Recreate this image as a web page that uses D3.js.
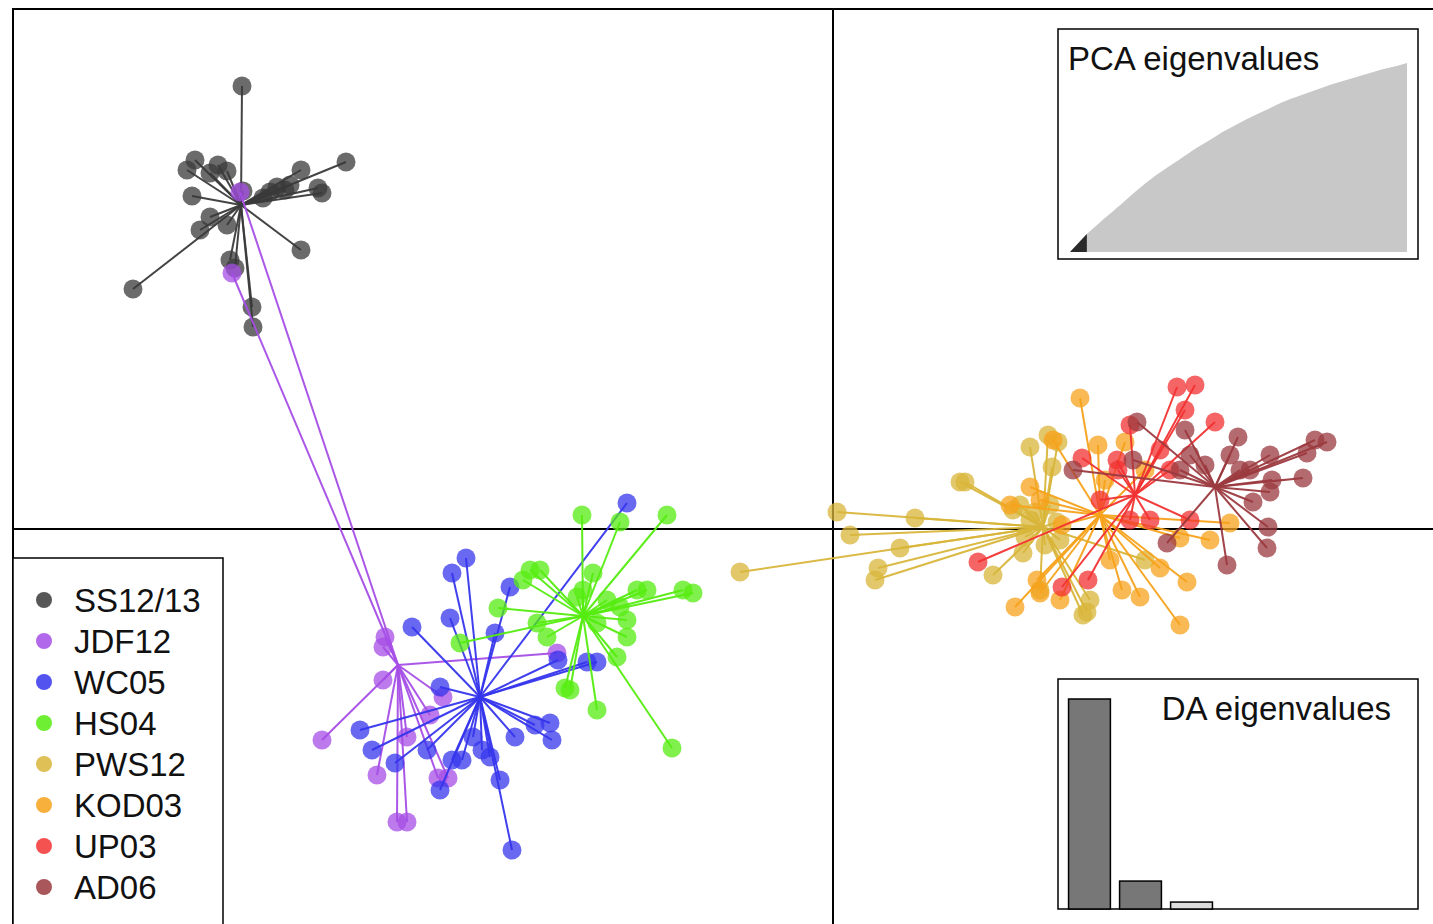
<!DOCTYPE html>
<html><head><meta charset="utf-8">
<script src="https://cdn.jsdelivr.net/npm/d3@7"></script>
<style>html,body{margin:0;padding:0;background:#fff;overflow:hidden}</style>
</head><body>
<svg id="chart" width="1433" height="924"></svg>
<script>
// ---- data (LD1, LD2 discriminant scores) ----
const groups = ["SS12/13","JDF12","WC05","HS04","PWS12","KOD03","UP03","AD06"];
const colors = ["#3a3a3a","#a54ee6","#3535ec","#55ec10","#d8b53a","#f7a21b","#f23232","#9b3a3f"];
const centroids = [[-5.92,3.24],[-4.35,-1.36],[-3.53,-1.68],[-2.50,-0.87],[2.10,0.02],[2.67,0.14],[3.02,0.34],[3.82,0.42]];
const ssScores = [[-5.91,4.43],[-4.87,3.67],[-7.00,2.40],[-5.32,2.79],[-6.38,3.69],[-6.46,3.59],[-6.06,3.58],[-6.23,3.56],[-6.41,3.33],[-5.90,3.38],[-5.70,3.31],[-5.56,3.42],[-5.43,3.44],[-5.32,3.59],[-5.15,3.41],[-5.11,3.36],[-6.23,3.12],[-6.33,2.99],[-6.06,3.04],[-6.03,2.69],[-5.98,2.61],[-5.81,2.22],[-5.80,2.02],[-5.63,3.37],[-5.48,3.39],[-6.15,3.64]];
const jdfScores = [[-5.93,3.37],[-6.01,2.56],[-4.48,-1.08],[-4.50,-1.18],[-4.50,-1.51],[-5.11,-2.11],[-4.56,-2.46],[-4.36,-2.93],[-4.26,-2.93],[-3.95,-2.49],[-3.85,-2.49],[-4.26,-2.08],[-2.76,-1.24],[-3.90,-1.68],[-4.03,-1.86]];
const wcScores = [[-3.67,-0.29],[-3.81,-0.44],[-4.21,-0.98],[-3.83,-0.89],[-3.23,-0.58],[-3.38,-1.04],[-4.73,-2.01],[-4.61,-2.21],[-4.38,-2.34],[-3.93,-1.58],[-4.06,-2.21],[-3.93,-2.61],[-3.81,-2.31],[-3.71,-2.31],[-3.51,-2.21],[-3.33,-2.51],[-3.21,-3.21],[-3.18,-2.08],[-2.83,-1.94],[-2.81,-2.11],[-3.60,-2.08],[-3.43,-2.28],[-2.06,0.26],[-2.46,-1.33],[-2.36,-1.33],[-2.75,-1.31],[-2.98,-1.96]];
const hsScores = [[-2.51,0.14],[-2.13,0.07],[-1.66,0.14],[-3.03,-0.41],[-2.93,-0.41],[-2.40,-0.44],[-3.35,-0.79],[-3.73,-1.14],[-1.96,-0.61],[-1.86,-0.61],[-1.50,-0.61],[-1.40,-0.64],[-2.06,-0.91],[-2.06,-1.08],[-2.16,-1.28],[-2.68,-1.59],[-2.36,-1.81],[-1.61,-2.19],[-2.96,-0.94],[-2.56,-0.68],[-2.36,-0.94],[-2.86,-1.08],[-2.50,-0.61],[-2.13,-0.78],[-2.26,-0.71],[-3.10,-0.51],[-2.63,-1.61]];
const pwsScores = [[-0.93,-0.43],[0.04,0.17],[0.17,-0.06],[0.82,0.11],[0.67,-0.19],[0.45,-0.39],[0.42,-0.51],[1.27,0.47],[1.32,0.47],[1.60,-0.46],[1.97,0.82],[2.15,0.94],[2.25,0.87],[2.19,0.62],[1.80,0.19],[1.87,0.24],[2.02,0.17],[2.17,0.24],[2.24,0.07],[1.92,-0.08],[2.12,-0.16],[1.90,-0.24],[2.07,-0.61],[2.50,-0.86],[2.54,-0.83],[2.57,-0.71],[3.12,-0.31],[1.97,0.09],[2.27,-0.11]];
const kodScores = [[2.47,1.31],[2.20,0.89],[2.65,0.84],[2.92,0.87],[1.97,0.42],[1.82,-0.78],[2.04,-0.51],[2.07,-0.64],[2.27,-0.71],[2.89,-0.61],[3.07,-0.68],[3.27,-0.39],[3.54,-0.53],[3.47,-0.96],[3.77,-0.11],[3.47,-0.09],[3.97,0.06],[1.77,0.24],[2.07,0.29],[2.29,0.04],[2.77,-0.31],[3.12,0.59],[2.72,0.49]];
const upScores = [[3.44,1.42],[3.62,1.44],[3.52,1.19],[3.82,1.07],[2.49,0.71],[2.84,0.69],[1.45,-0.33],[2.29,-0.58],[2.55,-0.51],[3.27,0.79],[2.85,0.59],[2.97,0.09],[3.17,0.09],[3.57,0.09],[2.67,0.29],[3.37,0.59],[2.97,1.04]];
const adScores = [[3.04,1.07],[3.52,0.99],[4.05,0.92],[4.82,0.89],[4.94,0.87],[4.74,0.76],[4.37,0.74],[4.70,0.51],[4.39,0.49],[4.37,0.37],[4.20,0.27],[4.35,0.02],[4.34,-0.19],[3.94,-0.36],[3.34,-0.14],[2.40,0.59],[3.00,0.69],[3.72,0.64],[3.57,0.74],[4.07,0.59],[3.47,0.59],[3.97,0.74],[4.17,0.59]];
const scores = [ssScores,jdfScores,wcScores,hsScores,pwsScores,kodScores,upScores,adScores];
// PCA cumulative variance (%) for retained axes, and DA eigenvalues
const pcaCumVar = [0,4.8,9.5,13.5,17.5,21.2,25,29,32.8,36.5,40,43,46,49,52,55,57.7,60.3,63.2,65.6,68,70.4,72.5,74.6,76.7,78.8,80.7,82.3,83.9,85.4,87,88.6,90,91.3,92.6,93.9,95.2,96.6,97.6,98.7,100];
const pcaRetained = 2;
const daEig = [1, 0.133, 0.033];
const daRetained = 2;

// ---- drawing ----
const svg = d3.select("#chart");
const W = 1433, H = 924;
const x = d3.scaleLinear().domain([-8.2, 6.0]).range([13, 1433]);
const y = d3.scaleLinear().domain([5.2, -3.95]).range([9, 924]);
const font = "'Liberation Sans', Arial, Helvetica, sans-serif";

// axes through origin
svg.append("line").attr("x1", x(-8.2)).attr("x2", W+5).attr("y1", y(0)).attr("y2", y(0)).attr("stroke","#000").attr("stroke-width",2);
svg.append("line").attr("x1", x(0)).attr("x2", x(0)).attr("y1", y(5.2)).attr("y2", H+5).attr("stroke","#000").attr("stroke-width",2);

// groups: star lines then points
groups.forEach((g, i) => {
  const c = centroids[i];
  const gg = svg.append("g");
  gg.selectAll("line").data(scores[i]).join("line")
    .attr("x1", x(c[0])).attr("y1", y(c[1]))
    .attr("x2", d => x(d[0])).attr("y2", d => y(d[1]))
    .attr("stroke", colors[i]).attr("stroke-width", 2).attr("stroke-opacity", 0.95);
  gg.selectAll("circle").data(scores[i]).join("circle")
    .attr("cx", d => x(d[0])).attr("cy", d => y(d[1])).attr("r", 9.5)
    .attr("fill", colors[i]).attr("fill-opacity", 0.75);
});

// frame
svg.append("rect").attr("x", 13).attr("y", 9).attr("width", W).attr("height", H)
  .attr("fill","none").attr("stroke","#000").attr("stroke-width",2);

// legend
const lg = svg.append("g");
lg.append("rect").attr("x", 13).attr("y", 558).attr("width", 210).attr("height", 400)
  .attr("fill","#fff").attr("stroke","#000").attr("stroke-width",1.5);
const ly = d3.scalePoint().domain(groups).range([600, 887]);
groups.forEach((g, i) => {
  lg.append("circle").attr("cx", 44).attr("cy", ly(g)).attr("r", 8).attr("fill", colors[i]).attr("fill-opacity",0.85);
  lg.append("text").attr("x", 74).attr("y", ly(g)).attr("dy","0.36em")
    .attr("font-family", font).attr("font-size", 33).attr("fill","#111").text(g);
});

// PCA eigenvalues inset
const pg = svg.append("g");
pg.append("rect").attr("x",1058).attr("y",29).attr("width",360).attr("height",230)
  .attr("fill","#fff").attr("stroke","#000").attr("stroke-width",1.5);
const px = d3.scaleLinear().domain([0, pcaCumVar.length-1]).range([1070, 1407]);
const py = d3.scaleLinear().domain([0, 100]).range([252, 63]);
const area = d3.area().x((d,i)=>px(i)).y0(py(0)).y1(d=>py(d)).curve(d3.curveMonotoneX);
pg.append("path").attr("d", area(pcaCumVar)).attr("fill","#c8c8c8");
pg.append("path").attr("d", area(pcaCumVar.slice(0, pcaRetained+1))).attr("fill","#2a2a2a");
pg.append("text").attr("x",1068).attr("y",70).attr("font-family",font).attr("font-size",33).attr("fill","#111").text("PCA eigenvalues");

// DA eigenvalues inset
const dg = svg.append("g");
dg.append("rect").attr("x",1058).attr("y",679).attr("width",360).attr("height",230)
  .attr("fill","#fff").attr("stroke","#000").attr("stroke-width",1.5);
const dx = d3.scaleBand().domain(d3.range(daEig.length)).range([1066, 1215]).paddingInner(0.18).paddingOuter(0.05);
const dy = d3.scaleLinear().domain([0, 1]).range([909, 699]);
dg.selectAll("rect.bar").data(daEig).join("rect").attr("class","bar")
  .attr("x",(d,i)=>dx(i)).attr("width",dx.bandwidth())
  .attr("y",d=>dy(d)).attr("height",d=>dy(0)-dy(d))
  .attr("fill",(d,i)=> i < daRetained ? "#777777" : "#dddddd")
  .attr("stroke","#000").attr("stroke-width",1.5);
dg.append("text").attr("x",1391).attr("y",720).attr("text-anchor","end")
  .attr("font-family",font).attr("font-size",33).attr("fill","#111").text("DA eigenvalues");
</script>
</body></html>
